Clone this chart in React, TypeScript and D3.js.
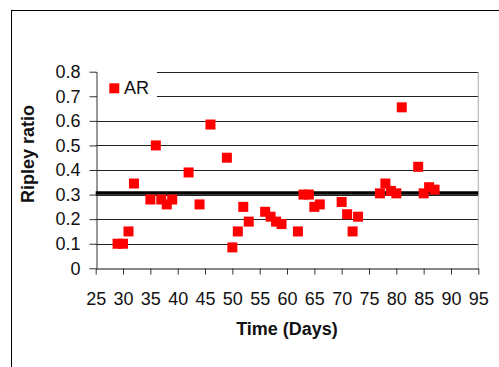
import * as d3 from 'd3';
import React, { useEffect, useRef } from 'react';

// AR samples: time in days and Ripley ratio
const days = [29, 30, 31, 32, 35, 36, 37, 38, 39, 42, 44, 46, 49, 50, 51, 52, 53, 56, 57, 58, 59, 62, 63, 64, 65, 66, 70, 71, 72, 73, 77, 78, 79, 80, 81, 84, 85, 86, 87];
const ratios = [0.1, 0.1, 0.15, 0.345, 0.28, 0.5, 0.28, 0.26, 0.28, 0.39, 0.26, 0.585, 0.45, 0.085, 0.15, 0.25, 0.19, 0.23, 0.21, 0.19, 0.18, 0.15, 0.3, 0.3, 0.25, 0.26, 0.27, 0.22, 0.15, 0.21, 0.305, 0.345, 0.315, 0.305, 0.655, 0.413, 0.305, 0.33, 0.32];
const referenceRatio = [0.306];
const xTicks = [25, 30, 35, 40, 45, 50, 55, 60, 65, 70, 75, 80, 85, 90, 95];
const yTicks = [0, 0.1, 0.2, 0.3, 0.4, 0.5, 0.6, 0.7, 0.8];
const seriesName = 'AR';

const App = () => {
    const ref = useRef<SVGSVGElement>(null);
    const W = 499;
    const H = 367;
    const plot = { left: 95.7, right: 478.3, top: 71.7, bottom: 268.3 };
    const font = '"Liberation Sans", Arial, sans-serif';

    useEffect(() => {
        const svg = d3.select(ref.current);
        svg.selectAll('*').remove();

        const x = d3.scaleLinear().domain([25, 95]).range([plot.left, plot.right]);
        const y = d3.scaleLinear().domain([0, 0.8]).range([plot.bottom, plot.top]);

        // outer chart frame (runs off the picture)
        svg.append('rect')
            .attr('x', 11.5).attr('y', 10.5)
            .attr('width', 600).attr('height', 400)
            .attr('fill', 'white').attr('stroke', 'black');

        // gridlines
        svg.append('g')
            .selectAll('line')
            .data(yTicks.filter(d => d > 0))
            .enter().append('line')
            .attr('x1', plot.left).attr('x2', plot.right)
            .attr('y1', d => Math.round(y(d)) + 0.5).attr('y2', d => Math.round(y(d)) + 0.5)
            .attr('stroke', '#222').attr('stroke-width', 1);

        // right edge of plot area
        svg.append('line')
            .attr('x1', plot.right).attr('x2', plot.right)
            .attr('y1', plot.top).attr('y2', plot.bottom)
            .attr('stroke', '#aaa');

        // legend box covers the gridlines
        svg.append('rect')
            .attr('x', plot.left + 1).attr('y', 67)
            .attr('width', 157 - plot.left - 1).attr('height', 34)
            .attr('fill', 'white');

        const xAxis = svg.append('g')
            .attr('transform', `translate(0,${Math.round(plot.bottom) + 0.5})`)
            .call(d3.axisBottom(x).tickValues(xTicks).tickSize(6).tickSizeOuter(0).tickPadding(18));
        xAxis.select('.domain').attr('stroke', '#111');
        xAxis.selectAll('.tick line').attr('stroke', '#333');
        xAxis.selectAll('text').attr('font-family', font).attr('font-size', 18).attr('fill', '#111');

        const yAxis = svg.append('g')
            .attr('transform', `translate(${Math.round(plot.left) + 0.5},0)`)
            .call(d3.axisLeft(y).tickValues(yTicks).tickSize(7).tickSizeOuter(0).tickPadding(9)
                .tickFormat(d => (d === 0 ? '0' : d3.format('.1f')(d as number))));
        yAxis.select('.domain').attr('stroke', '#333');
        yAxis.selectAll('.tick line').attr('stroke', '#333');
        yAxis.selectAll('text').attr('font-family', font).attr('font-size', 18).attr('fill', '#111');

        // reference line
        svg.selectAll('.ref')
            .data(referenceRatio)
            .enter().append('line')
            .attr('class', 'ref')
            .attr('x1', plot.left).attr('x2', plot.right)
            .attr('y1', d => y(d)).attr('y2', d => y(d))
            .attr('stroke', 'black').attr('stroke-width', 3.5);

        // points
        const size = 10;
        svg.append('g')
            .selectAll('rect')
            .data(days.map((d, i) => [d, ratios[i]]))
            .enter().append('rect')
            .attr('x', d => x(d[0]) - size / 2)
            .attr('y', d => y(d[1]) - size / 2)
            .attr('width', size).attr('height', size)
            .attr('fill', '#ff0000');

        // legend
        svg.append('rect')
            .attr('x', 109.3).attr('y', 83.3)
            .attr('width', size).attr('height', size)
            .attr('fill', '#ff0000');
        svg.append('text')
            .attr('x', 124).attr('y', 93.5)
            .attr('font-family', font).attr('font-size', 18).attr('fill', '#111')
            .text(seriesName);

        // axis titles
        svg.append('text')
            .attr('x', (plot.left + plot.right) / 2).attr('y', 335)
            .attr('text-anchor', 'middle')
            .attr('font-family', font).attr('font-size', 18).attr('font-weight', 'bold')
            .attr('fill', '#111')
            .text('Time (Days)');

        svg.append('text')
            .attr('transform', 'translate(34,154) rotate(-90)')
            .attr('text-anchor', 'middle')
            .attr('font-family', font).attr('font-size', 18).attr('font-weight', 'bold')
            .attr('fill', '#111')
            .text('Ripley ratio');
    }, []);

    return (
        <svg ref={ref} width={W} height={H}
            style={{ position: 'absolute', left: 0, top: 0, background: 'white' }} />
    );
};

export default App;
